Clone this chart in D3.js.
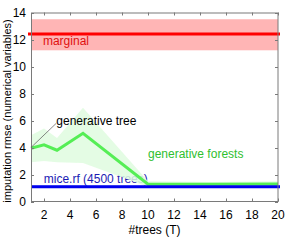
<!DOCTYPE html>
<html>
<head>
<meta charset="utf-8">
<script src="https://cdn.jsdelivr.net/npm/d3@7"></script>
<style>
  body { margin: 0; background: #fff; }
  text { font-family: "Liberation Sans", Arial, sans-serif; }
</style>
</head>
<body>
<svg id="chart" width="287" height="241"></svg>
<script>
const width = 287;
const height = 241;

// generative forests: mean and spread per number of trees
const trees = [1, 2, 3, 5, 10, 15, 20];
const forestMean = [3.95, 4.2, 3.8, 5.05, 1.28, 1.28, 1.3];
const forestLow = [2.9, 3.0, 2.9, 2.85, 1.1, 1.1, 1.15];
const forestHigh = [4.9, 5.4, 4.7, 6.95, 1.5, 1.45, 1.5];

// flat baselines: [mean, low, high]
const marginal = [12.4, 11.2, 13.5];
const miceRf = [1.1, 1.0, 1.2];

const xTicks = [2, 4, 6, 8, 10, 12, 14, 16, 18, 20];
const yTicks = [0, 2, 4, 6, 8, 10, 12, 14];

main();

function main() {
  const margin = {l: 31, r: 9, t: 12.5, b: 39.5};
  const svg = d3.select("#chart");

  const x = d3.scaleLinear().domain([1, 20]).range([margin.l, width - margin.r]);
  const y = d3.scaleLinear().domain([0, 14]).range([height - margin.b, margin.t]);

  const data = trees.map((t, i) => ({t, m: forestMean[i], lo: forestLow[i], hi: forestHigh[i]}));

  // marginal band + line
  svg.append("rect")
    .attr("x", x(1)).attr("width", x(20) - x(1))
    .attr("y", y(marginal[2])).attr("height", y(marginal[1]) - y(marginal[2]))
    .attr("fill", "#ffb5b5");
  svg.append("line")
    .attr("x1", x(1) - 3).attr("x2", x(20) + 2)
    .attr("y1", y(marginal[0])).attr("y2", y(marginal[0]))
    .attr("stroke", "#ff0000").attr("stroke-width", 3);

  // mice.rf band and label (under the forest band)
  svg.append("rect")
    .attr("x", x(1)).attr("width", x(20) - x(1))
    .attr("y", y(miceRf[2])).attr("height", y(miceRf[1]) - y(miceRf[2]))
    .attr("fill", "#c8d4ff");
  svg.append("text")
    .attr("x", x(1.98)).attr("y", y(1.35))
    .attr("fill", "#1c1cb4").attr("font-size", 12)
    .text("mice.rf (4500 trees)");

  // forest spread
  svg.append("path")
    .datum(data)
    .attr("fill", "#dffbdf")
    .attr("fill-opacity", 0.85)
    .attr("d", d3.area().x(d => x(d.t)).y0(d => y(d.lo)).y1(d => y(d.hi)));

  svg.append("path")
    .datum(data)
    .attr("fill", "none")
    .attr("stroke", "#55ee55")
    .attr("stroke-width", 3)
    .attr("stroke-linejoin", "miter")
    .attr("d", d3.line().x(d => x(d.t)).y(d => y(d.m)));

  svg.append("line")
    .attr("x1", x(1)).attr("x2", x(20) + 2)
    .attr("y1", y(miceRf[0])).attr("y2", y(miceRf[0]))
    .attr("stroke", "#0000ee").attr("stroke-width", 3);

  // axes box
  const ax = svg.append("g").attr("stroke", "#7a7a7a").attr("fill", "none");
  ax.append("rect")
    .attr("x", x(1) + 0.5).attr("y", y(14) + 0.5)
    .attr("width", x(20) - x(1) - 0.5).attr("height", y(0) - y(14) - 0.5);

  const tl = 3;
  for (let t of xTicks) {
    const px = Math.round(x(t)) + 0.5;
    ax.append("line").attr("x1", px).attr("x2", px).attr("y1", y(0)).attr("y2", y(0) - tl);
    ax.append("line").attr("x1", px).attr("x2", px).attr("y1", y(14)).attr("y2", y(14) + tl);
  }
  for (let t of yTicks) {
    const py = Math.round(y(t)) + 0.5;
    ax.append("line").attr("x1", x(1)).attr("x2", x(1) + tl).attr("y1", py).attr("y2", py);
    ax.append("line").attr("x1", x(20)).attr("x2", x(20) - tl).attr("y1", py).attr("y2", py);
  }

  // tick labels
  svg.append("g").selectAll("text").data(xTicks).join("text")
    .attr("x", d => x(d)).attr("y", y(0) + 17)
    .attr("text-anchor", "middle").attr("font-size", 12).attr("fill", "#000")
    .text(d => d);
  svg.append("g").selectAll("text").data(yTicks).join("text")
    .attr("x", x(1) - 5).attr("y", d => y(d) + 4.5)
    .attr("text-anchor", "end").attr("font-size", 12).attr("fill", "#000")
    .text(d => d);

  // axis titles
  svg.append("text")
    .attr("x", x(10.5)).attr("y", 234)
    .attr("text-anchor", "middle").attr("font-size", 12)
    .text("#trees (T)");
  svg.append("text")
    .attr("transform", `translate(10.5, ${(y(0) + y(14)) / 2 + 4}) rotate(-90)`)
    .attr("text-anchor", "middle").attr("font-size", 11)
    .text("imputation rmse (numerical variables)");

  // annotations
  svg.append("text")
    .attr("x", x(1.92)).attr("y", y(11.6))
    .attr("fill", "#e01010").attr("font-size", 12)
    .text("marginal");

  svg.append("line")
    .attr("x1", x(1)).attr("y1", y(4.0))
    .attr("x2", x(2.95)).attr("y2", y(5.8))
    .attr("stroke", "#555").attr("stroke-width", 0.7);
  svg.append("text")
    .attr("x", x(2.95)).attr("y", y(5.65))
    .attr("font-size", 12).attr("fill", "#000")
    .text("generative tree");

  svg.append("text")
    .attr("x", x(10)).attr("y", y(3.25))
    .attr("fill", "#2fc02f").attr("font-size", 12)
    .text("generative forests");
}
</script>
</body>
</html>
